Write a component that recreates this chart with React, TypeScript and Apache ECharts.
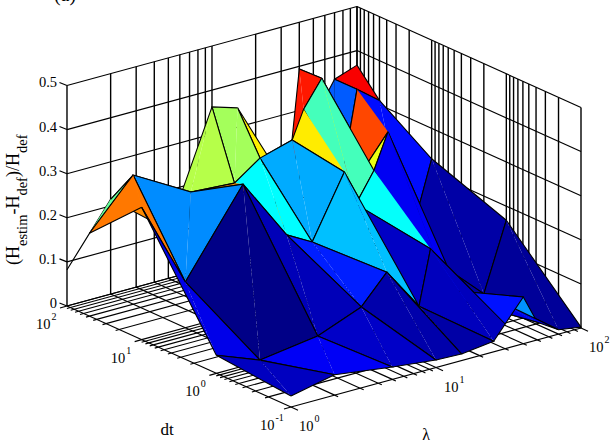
import React, { useEffect, useRef } from "react";
import * as echarts from "echarts";

const lambdaValues = [1, 2, 5, 10, 15, 25, 30, 40, 50, 70, 100];
const dtValues = [0.1, 1, 10, 50, 100];
const zAtDt01 = [0.025, 0.046, 0.028, 0.017, 0.015, 0.024, 0.056, 0.106, 0.04, 0.01, 0.002];
const zAtDt1 = [0.041, 0.003, 0.022, 0.061, 0.124, 0.027, 0.15, 0.045, 0.012, 0.015, 0.168];
const zAtDt10 = [0.3, 0.104, 0.29, 0.148, 0.116, 0.255, 0.175, 0.24, 0.319, 0.054, 0.231];
const zAtDt50 = [0.188, 0.293, 0.219, 0.212, 0.253, 0.274, 0.337, 0.396, 0.085, 0.349, 0.31];
const zAtDt100 = [0.082, 0.215, 0.11, 0.362, 0.344, 0.208, 0.006, 0.394, 0.27, 0.349, 0.367];
const zRows = [zAtDt01, zAtDt1, zAtDt10, zAtDt50, zAtDt100];
const zTicks = [0, 0.1, 0.2, 0.3, 0.4, 0.5];
const zTickLabels = ["0", "0.1", "0.2", "0.3", "0.4", "0.5"];
const lambdaDecades = [0, 1, 2];
const dtDecades = [2, 1, 0, -1];
const minorFactors = [1, 2, 3, 4, 5, 6, 7, 8, 9];

const FONT = '"Liberation Serif", serif';
const W = 613;
const H = 443;

// Orthographic view of the log-log-linear box: screen position of (lambda, dt, z).
const project = (lam: number, dt: number, z: number): [number, number] => {
  const l = Math.log10(lam);
  const d = Math.log10(dt) + 1;
  return [291 + 145 * l - 74.67 * d, 407 - 39.5 * l - 33.67 * d - 441 * z];
};
const depth = (lam: number, dt: number, z: number) =>
  105.7 * Math.log10(lam) + 89.8 * Math.log10(dt) - 164.8 * z;

const jet = (t: number) => {
  const c = (v: number) => Math.round(255 * Math.max(0, Math.min(1, v)));
  const r = 1.5 - Math.abs(4 * t - 3);
  const g = 1.5 - Math.abs(4 * t - 2);
  const b = 1.5 - Math.abs(4 * t - 1);
  return `rgb(${c(r)},${c(g)},${c(b)})`;
};

const ticksOf = (decades: number[]) => {
  const out: { v: number; major: boolean }[] = [];
  const lo = Math.min(...decades);
  const hi = Math.max(...decades);
  for (let e = lo; e < hi; e++) {
    minorFactors.forEach((f) => out.push({ v: f * 10 ** e, major: f === 1 }));
  }
  out.push({ v: 10 ** hi, major: true });
  return out;
};
const lamTicks = ticksOf(lambdaDecades);
const dtTicks = ticksOf(dtDecades);
const LMIN = 1, LMAX = 100, DMIN = 0.1, DMAX = 100, ZTOP = 0.5;

type Seg = { pts: [number, number][]; w: number };
const buildFrame = (): Seg[] => {
  const segs: Seg[] = [];
  const add = (a: [number, number], b: [number, number], w = 1.15) => segs.push({ pts: [a, b], w });
  // floor grid
  lamTicks.forEach((t) => add(project(t.v, DMIN, 0), project(t.v, DMAX, 0)));
  dtTicks.forEach((t) => add(project(LMIN, t.v, 0), project(LMAX, t.v, 0)));
  // walls
  lamTicks.forEach((t) => add(project(t.v, DMAX, 0), project(t.v, DMAX, ZTOP), 1.4));
  dtTicks.forEach((t) => add(project(LMAX, t.v, 0), project(LMAX, t.v, ZTOP), 1.4));
  zTicks.forEach((z) => {
    add(project(LMIN, DMAX, z), project(LMAX, DMAX, z));
    add(project(LMAX, DMAX, z), project(LMAX, DMIN, z));
  });
  // ticks
  lamTicks.forEach((t) => {
    const p = project(t.v, DMIN, 0);
    const k = t.major ? 1 : 0.5;
    add(p, [p[0] + 7 * k, p[1] + 3.2 * k]);
  });
  dtTicks.forEach((t) => {
    const p = project(LMIN, t.v, 0);
    const k = t.major ? 1 : 0.5;
    add(p, [p[0] - 7 * k, p[1] + 2 * k]);
  });
  zTicks.forEach((z) => {
    const p = project(LMIN, DMAX, z);
    add(p, [p[0] - 7.5, p[1] - 3]);
  });
  return segs;
};

type Tri = { pts: [number, number][]; edges: [number, number][][]; fill: string; d: number };
const BACK_BIAS = 25;
const buildSurface = (): Tri[] => {
  const zMax = Math.max(...zRows.flat());
  const tris: Tri[] = [];
  const isBack = (q: [number, number][]) =>
    (q[1][0] - q[0][0]) * (q[2][1] - q[1][1]) - (q[1][1] - q[0][1]) * (q[2][0] - q[1][0]) > 0;
  for (let i = 0; i < dtValues.length - 1; i++) {
    for (let j = 0; j < lambdaValues.length - 1; j++) {
      const node = (a: number, b: number) => ({ l: lambdaValues[b], t: dtValues[a], z: zRows[a][b] });
      const A = node(i, j), B = node(i, j + 1), C = node(i + 1, j + 1), D = node(i + 1, j);
      const fill = jet(A.z / zMax);
      const p = (n: typeof A) => project(n.l, n.t, n.z);
      const cell = [A, B, C, D].reduce((s, n) => s + depth(n.l, n.t, n.z), 0) / 4;
      const t1: [number, number][] = [p(A), p(B), p(C)];
      const t2: [number, number][] = [p(A), p(C), p(D)];
      tris.push({ pts: t1, edges: [[p(A), p(B), p(C)]], fill, d: cell + (isBack(t1) ? BACK_BIAS : 0) });
      tris.push({ pts: t2, edges: [[p(C), p(D), p(A)]], fill, d: cell + (isBack(t2) ? BACK_BIAS : 0) });
    }
  }
  // Far to near; faces turned away from the viewer are pushed a little further back.
  return tris.sort((a, b) => b.d - a.d);
};

export default function App() {
  const ref = useRef<HTMLDivElement>(null);
  useEffect(() => {
    document.body.style.margin = "0";
    const chart = echarts.init(ref.current!, undefined, { renderer: "svg" });
    const frame = buildFrame();
    const surface = buildSurface();
    const txt = (text: string, x: number, y: number, size: number, align = "left", rotation = 0) => ({
      type: "text",
      x,
      y,
      rotation,
      silent: true,
      style: {
        text,
        fontFamily: FONT,
        fontSize: size,
        fill: "#000",
        textAlign: align,
        textVerticalAlign: "middle",
        align,
        verticalAlign: "middle",
      },
    });
    const graphics: any[] = [];
    zTicks.forEach((z, i) => {
      const p = project(LMIN, DMAX, z);
      graphics.push(txt(zTickLabels[i], 57, p[1] - 3, 14.5, "right"));
    });
    const power = (base: [number, number], dx: number, dy: number, e: number) => {
      graphics.push(txt("10", base[0] + dx, base[1] + dy, 14.5));
      graphics.push(txt(String(e), base[0] + dx + 15.5, base[1] + dy - 7.5, 10));
    };
    dtDecades.forEach((e) => power(project(LMIN, 10 ** e, 0), -31, 18, e));
    lambdaDecades.forEach((e) => power(project(10 ** e, DMIN, 0), 8, 19, e));
    graphics.push(txt("dt", 167, 429, 17, "center"));
    graphics.push(txt("λ", 426, 434.5, 16, "center"));
    graphics.push(txt("(a)", 65, -6, 20, "center"));
    // y label, rotated: main text and subscripts stacked from bottom to top
    const R = Math.PI / 2;
    const MAIN_X = 12.6, SUB_X = 22;
    graphics.push(txt("(H", MAIN_X, 265, 18, "left", R));
    graphics.push(txt("estim", SUB_X, 246, 14.5, "left", R));
    graphics.push(txt("-H", MAIN_X, 214.6, 18, "left", R));
    graphics.push(txt("def", SUB_X, 195.6, 14.5, "left", R));
    graphics.push(txt(")/H", MAIN_X, 177, 18, "left", R));
    graphics.push(txt("def", SUB_X, 153, 14.5, "left", R));

    const toPoints = (api: any, pts: [number, number][]) => pts.map((q) => api.coord(q));
    chart.setOption({
      animation: false,
      grid: { left: 0, right: 0, top: 0, bottom: 0 },
      xAxis: { type: "value", min: 0, max: W, show: false },
      yAxis: { type: "value", min: 0, max: H, inverse: true, show: false },
      graphic: graphics,
      series: [
        {
          type: "custom",
          coordinateSystem: "cartesian2d",
          silent: true,
          clip: false,
          data: frame.map((_, i) => [i, 0]),
          encode: { x: 0, y: 1 },
          renderItem: (params: any, api: any) => {
            const s = frame[params.dataIndex];
            return {
              type: "polyline",
              shape: { points: toPoints(api, s.pts) },
              style: { stroke: "#000", lineWidth: s.w, fill: "none" },
            };
          },
        },
        {
          type: "custom",
          coordinateSystem: "cartesian2d",
          silent: true,
          clip: false,
          z: 3,
          data: surface.map((_, i) => [i, 0]),
          encode: { x: 0, y: 1 },
          renderItem: (params: any, api: any) => {
            const t = surface[params.dataIndex];
            return {
              type: "group",
              children: [
                {
                  type: "polygon",
                  shape: { points: toPoints(api, t.pts) },
                  style: { fill: t.fill, stroke: "none" },
                },
                ...t.edges.map((e) => ({
                  type: "polyline",
                  shape: { points: toPoints(api, e) },
                  style: { stroke: "#000", lineWidth: 1.1, fill: "none" },
                })),
              ],
            };
          },
        },
      ],
    });
    return () => chart.dispose();
  }, []);
  return <div ref={ref} style={{ width: W, height: H }} />;
}
